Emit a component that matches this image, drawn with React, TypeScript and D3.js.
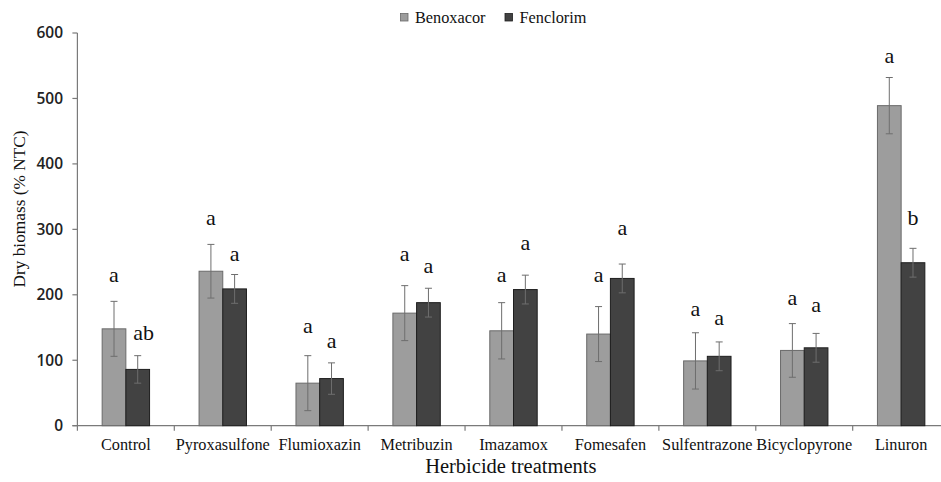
import React from "react";
import * as d3 from "d3";

const categories = ["Control", "Pyroxasulfone", "Flumioxazin", "Metribuzin", "Imazamox", "Fomesafen", "Sulfentrazone", "Bicyclopyrone", "Linuron"];
const seriesNames = ["Benoxacor", "Fenclorim"];
const benoxacor = [148, 236, 65, 172, 145, 140, 99, 115, 489];
const fenclorim = [86, 209, 72, 188, 208, 225, 106, 119, 249];
const benoxacorErr = [42, 41, 42, 42, 43, 42, 43, 41, 43];
const fenclorimErr = [21, 22, 24, 22, 22, 22, 22, 22, 22];
const benoxacorLetters = ["a", "a", "a", "a", "a", "a", "a", "a", "a"];
const fenclorimLetters = ["ab", "a", "a", "a", "a", "a", "a", "a", "b"];
const benoxacorLetterY = [220, 307, 141, 251, 220, 220, 168, 185, 554];
const fenclorimLetterY = [131, 251, 118, 234, 268, 291, 154, 174, 306];
const yTicks = [0, 100, 200, 300, 400, 500, 600];

const W = 941;
const H = 482;
const left = 77.4;
const right = 949.6;
const top = 33;
const bottom = 425.7;
const serif = "'Liberation Serif', 'Times New Roman', serif";

export default function App() {
  const x = d3.scaleBand<string>().domain(categories).range([left, right]).paddingInner(0).paddingOuter(0);
  const y = d3.scaleLinear().domain([0, 600]).range([bottom, top]);
  const bw = 23.7;
  const fills = ["#9d9d9d", "#424242"];
  const strokes = ["#6a6a6a", "#1e1e1e"];
  const values = [benoxacor, fenclorim];
  const errs = [benoxacorErr, fenclorimErr];
  const letters = [benoxacorLetters, fenclorimLetters];
  const letterY = [benoxacorLetterY, fenclorimLetterY];
  const boundaries = d3.range(categories.length + 1).map((i) => left + i * x.bandwidth());

  return (
    <svg width={W} height={H} style={{ position: "absolute", left: 0, top: 0, background: "#fff" }}>
      {/* y axis */}
      <line x1={left} x2={left} y1={top} y2={bottom} stroke="#7a7a7a" strokeWidth={1.2} />
      {yTicks.map((t) => (
        <g key={t}>
          <line x1={left - 5} x2={left} y1={y(t)} y2={y(t)} stroke="#7a7a7a" strokeWidth={1.2} />
          <text x={63} y={y(t)} dy="0.35em" textAnchor="end" fontFamily="'Open Sans', sans-serif" fontWeight={600} fontSize={15.5} fill="#222">
            {t}
          </text>
        </g>
      ))}
      {/* x axis */}
      <line x1={left - 5} x2={W} y1={bottom} y2={bottom} stroke="#7a7a7a" strokeWidth={1.2} />
      {boundaries.map((b, i) => (
        <line key={i} x1={b} x2={b} y1={bottom} y2={bottom + 5} stroke="#7a7a7a" strokeWidth={1.2} />
      ))}
      {/* bars */}
      {categories.map((c, i) => {
        const cx = (x(c) as number) + x.bandwidth() / 2;
        return (
          <g key={c}>
            {[0, 1].map((s) => {
              const bx = cx - bw + s * bw;
              const v = values[s][i];
              const e = errs[s][i];
              const mx = bx + bw / 2;
              return (
                <g key={s}>
                  <rect x={bx} y={y(v)} width={bw} height={bottom - y(v)} fill={fills[s]} stroke={strokes[s]} strokeWidth={1} />
                  <line x1={mx} x2={mx} y1={y(v + e)} y2={y(Math.max(v - e, 0))} stroke="#6e6e6e" strokeWidth={1} />
                  <line x1={mx - 3.5} x2={mx + 3.5} y1={y(v + e)} y2={y(v + e)} stroke="#6e6e6e" strokeWidth={1} />
                  <line x1={mx - 3.5} x2={mx + 3.5} y1={y(v - e)} y2={y(v - e)} stroke="#6e6e6e" strokeWidth={1} />
                  <text x={mx + (letters[s][i].length > 1 ? 6 : 0)} y={y(letterY[s][i])} textAnchor="middle" fontFamily={serif} fontSize={22} fill="#111">
                    {letters[s][i]}
                  </text>
                </g>
              );
            })}
            <text x={cx} y={449.5} textAnchor="middle" fontFamily={serif} fontSize={16.3} fill="#111">
              {c}
            </text>
          </g>
        );
      })}
      {/* axis titles */}
      <text x={510.8} y={472.5} textAnchor="middle" fontFamily={serif} fontSize={20.5} fill="#111">
        Herbicide treatments
      </text>
      <text transform={`translate(24.5, 209) rotate(-90)`} textAnchor="middle" fontFamily={serif} fontSize={17.3} fill="#111">
        Dry biomass (% NTC)
      </text>
      {/* legend */}
      {seriesNames.map((n, i) => {
        const lx = [400.5, 505][i];
        return (
          <g key={n}>
            <rect x={lx} y={13.5} width={7.5} height={7.5} fill={fills[i]} stroke={strokes[i]} strokeWidth={0.8} />
            <text x={lx + 14.5} y={23} fontFamily={serif} fontSize={16.3} fill="#111">
              {n}
            </text>
          </g>
        );
      })}
    </svg>
  );
}
